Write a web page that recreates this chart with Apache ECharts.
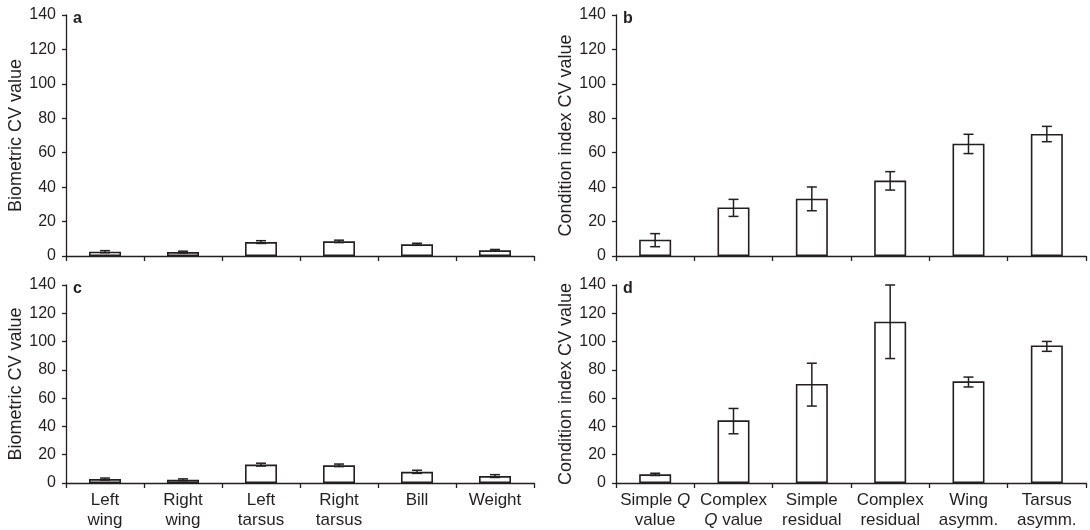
<!DOCTYPE html>
<html>
<head>
<meta charset="utf-8">
<script src="https://cdn.jsdelivr.net/npm/echarts@6/dist/echarts.min.js"></script>
<style>
html,body{margin:0;padding:0;background:#fff;}
#chart{width:1090px;height:530px;}
</style>
</head>
<body>
<div id="chart"></div>
<script>
// ---- Data ----
const bioCategories = ['Left\nwing', 'Right\nwing', 'Left\ntarsus', 'Right\ntarsus', 'Bill', 'Weight'];
const condCategories = ['Simple {i|Q}\nvalue', 'Complex\n{i|Q} value', 'Simple\nresidual', 'Complex\nresidual', 'Wing\nasymm.', 'Tarsus\nasymm.'];
const yTicks = [0, 20, 40, 60, 80, 100, 120, 140];

const aValues = [2.5, 2.3, 8.1, 8.5, 6.8, 3.3];
const aLow    = [1.9, 1.8, 7.3, 7.8, 6.2, 2.8];
const aHigh   = [3.1, 2.8, 8.9, 9.2, 7.4, 3.8];

const bValues = [9.5, 28.2, 33.3, 43.8, 65.2, 70.9];
const bLow    = [5.4, 23.0, 26.3, 38.3, 59.5, 66.4];
const bHigh   = [13.0, 32.9, 40.1, 49.0, 70.7, 75.3];

const cValues = [2.8, 2.3, 13.0, 12.5, 7.9, 4.9];
const cLow    = [2.1, 1.7, 12.0, 11.6, 6.8, 3.9];
const cHigh   = [3.5, 2.9, 14.0, 13.4, 9.0, 5.9];

const dValues = [6.1, 44.3, 70.0, 114.1, 71.9, 97.3];
const dLow    = [5.3, 34.8, 54.4, 88.0, 67.9, 93.1];
const dHigh   = [6.9, 52.7, 84.7, 140.0, 74.9, 100.1];

const panelLetters = ['a', 'b', 'c', 'd'];
const yNames = ['Biometric CV value', 'Condition index CV value', 'Biometric CV value', 'Condition index CV value'];

// ---- Chart ----
const INK = '#231f20';
const FONT = 'Liberation Sans, Arial, sans-serif';
const chart = echarts.init(document.getElementById('chart'));

const grids = [
  {left: 66, top: 15, width: 468, height: 241},
  {left: 616, top: 15, width: 470, height: 241},
  {left: 66, top: 285, width: 468, height: 199},
  {left: 616, top: 285, width: 470, height: 199}
];
const panels = [
  {cats: bioCategories, v: aValues, lo: aLow, hi: aHigh, labels: false},
  {cats: condCategories, v: bValues, lo: bLow, hi: bHigh, labels: false},
  {cats: bioCategories, v: cValues, lo: cLow, hi: cHigh, labels: true},
  {cats: condCategories, v: dValues, lo: dLow, hi: dHigh, labels: true}
];

function errItem(params, api) {
  const x = api.value(0);
  const lo = api.coord([x, api.value(1)]);
  const hi = api.coord([x, api.value(2)]);
  const w = 5;
  const st = {stroke: INK, lineWidth: 1.5};
  return {
    type: 'group',
    children: [
      {type: 'line', shape: {x1: lo[0], y1: lo[1], x2: hi[0], y2: hi[1]}, style: st},
      {type: 'line', shape: {x1: lo[0] - w, y1: lo[1], x2: lo[0] + w, y2: lo[1]}, style: st},
      {type: 'line', shape: {x1: hi[0] - w, y1: hi[1], x2: hi[0] + w, y2: hi[1]}, style: st}
    ]
  };
}

const xAxes = [], yAxes = [], series = [], graphics = [];
panels.forEach((p, i) => {
  xAxes.push({
    type: 'category', gridIndex: i, data: p.cats,
    axisLine: {lineStyle: {color: INK, width: 1.3}},
    axisTick: {show: true, length: 5, lineStyle: {color: INK, width: 1.3}},
    axisLabel: {
      show: p.labels, color: INK, fontSize: 17, lineHeight: 20, margin: 7,
      fontFamily: FONT, interval: 0,
      rich: {i: {fontStyle: 'italic', fontSize: 17, color: INK, fontFamily: FONT}}
    }
  });
  yAxes.push({
    type: 'value', gridIndex: i, min: yTicks[0], max: yTicks[yTicks.length - 1], interval: 20,
    name: yNames[i], nameLocation: 'middle', nameGap: 40,
    nameTextStyle: {color: INK, fontSize: 18, fontFamily: FONT},
    axisLine: {show: true, lineStyle: {color: INK, width: 1.3}},
    axisTick: {show: true, length: 4, lineStyle: {color: INK, width: 1.3}},
    axisLabel: {color: INK, fontSize: 16, margin: 10, fontFamily: FONT},
    splitLine: {show: false}
  });
  series.push({
    type: 'bar', xAxisIndex: i, yAxisIndex: i, data: p.v, barWidth: 32,
    itemStyle: {color: '#fff', borderColor: INK, borderWidth: 1.6},
    silent: true, z: 2
  });
  series.push({
    type: 'custom', xAxisIndex: i, yAxisIndex: i,
    data: p.v.map((_, k) => [k, p.lo[k], p.hi[k]]),
    renderItem: errItem, silent: true, z: 3
  });
  graphics.push({
    type: 'text', left: grids[i].left + 7, top: grids[i].top - 4,
    style: {text: panelLetters[i], font: 'bold 16px ' + FONT, fill: INK}
  });
});

chart.setOption({
  animation: false,
  backgroundColor: '#fff',
  grid: grids,
  xAxis: xAxes,
  yAxis: yAxes,
  series: series,
  graphic: graphics
});
</script>
</body>
</html>
